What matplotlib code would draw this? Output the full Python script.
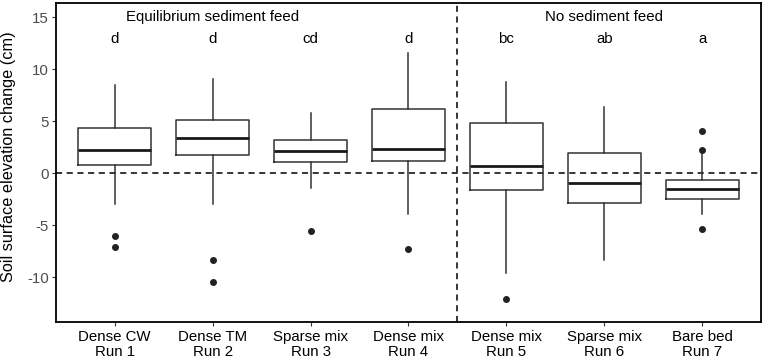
import matplotlib
matplotlib.use("Agg")
import matplotlib.pyplot as plt

plt.rcParams['font.family'] = ['Liberation Sans', 'DejaVu Sans']

categories = ["Dense CW\nRun 1", "Dense TM\nRun 2", "Sparse mix\nRun 3", "Dense mix\nRun 4",
              "Dense mix\nRun 5", "Sparse mix\nRun 6", "Bare bed\nRun 7"]
whislo = [-2.92, -2.92, -1.38, -3.97, -9.59, -8.37, -3.94]
q1 = [0.80, 1.70, 1.03, 1.18, -1.66, -2.82, -2.53]
med = [2.21, 3.37, 2.15, 2.37, 0.70, -0.99, -1.51]
q3 = [4.30, 5.13, 3.17, 6.18, 4.78, 1.92, -0.67]
whishi = [8.43, 9.07, 5.74, 11.57, 8.72, 6.35, 2.15]
outliers = [[-6.06, -7.12], [-8.33, -10.45], [-5.55], [-7.31], [-12.12], [], [4.01, 2.21, -5.38]]
letters = ["d", "d", "cd", "d", "bc", "ab", "a"]
groups = ["Equilibrium sediment feed", "No sediment feed"]

fig = plt.figure(figsize=(7.65, 3.59), dpi=100)
ax = fig.add_axes([56/765, 1 - 322/359, (761-56)/765, (322-3)/359])

stats = []
for i in range(len(categories)):
    stats.append(dict(med=med[i], q1=q1[i], q3=q3[i], whislo=whislo[i], whishi=whishi[i],
                      fliers=outliers[i], label=categories[i]))
pos = list(range(1, len(categories) + 1))
ax.bxp(stats, positions=pos, widths=0.75, showcaps=False,
       boxprops=dict(color='#333333', linewidth=1.1),
       medianprops=dict(color='#1a1a1a', linewidth=2.0),
       whiskerprops=dict(color='#333333', linewidth=1.1),
       flierprops=dict(marker='o', markerfacecolor='#222222', markeredgecolor='#222222', markersize=4.0))

ax.axhline(0, color='black', linestyle=(0, (4, 3)), linewidth=1.1, zorder=0)
ax.axvline(4.5, color='black', linestyle=(0, (4, 3)), linewidth=1.1, zorder=0)

ax.set_xlim(0.4, 7.6)
ax.set_ylim(-14.3, 16.35)
ax.set_yticks([-10, -5, 0, 5, 10, 15])
ax.set_yticklabels(["-10", "-5", "0", "5", "10", "15"])
ax.set_xticks(pos)
ax.set_xticklabels(categories)
ax.tick_params(axis='both', colors='#333333', labelsize=10.8, length=3, width=0.8)
ax.tick_params(axis='x', labelcolor='black', pad=3)
ax.tick_params(axis='y', labelcolor='#4d4d4d', pad=2)
for lab in ax.get_xticklabels():
    lab.set_linespacing(1.1)
ax.set_ylabel("Soil surface elevation change (cm)", fontsize=11.7)
ax.yaxis.set_label_coords(-40/705, 0.517)

for s in ax.spines.values():
    s.set_color('black')
    s.set_linewidth(1.3)

for i, t in enumerate(letters):
    ax.text(pos[i], 12.9, t, ha='center', va='center', fontsize=10.8)
ax.text(2, 15.0, groups[0], ha='center', va='center', fontsize=10.8)
ax.text(6, 15.0, groups[1], ha='center', va='center', fontsize=10.8)

fig.savefig("out.png", dpi=100)
